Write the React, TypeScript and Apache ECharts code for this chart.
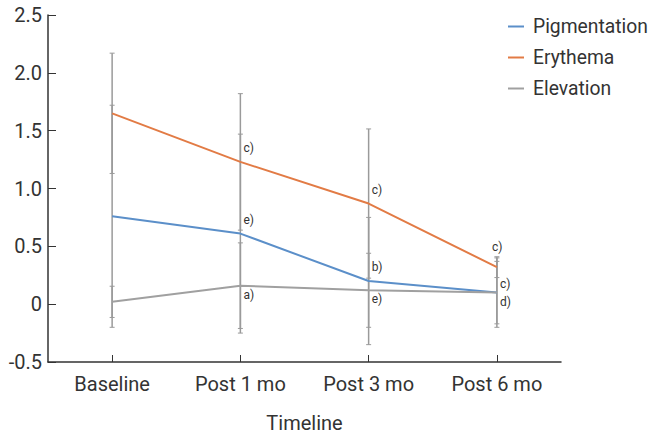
import React, { useEffect, useRef } from "react";
import * as echarts from "echarts";

const categories = ["Baseline", "Post 1 mo", "Post 3 mo", "Post 6 mo"];
const seriesNames = ["Pigmentation", "Erythema", "Elevation"];
const pigmentationMean = [0.76, 0.61, 0.2, 0.1];
const pigmentationSD = [0.96, 0.86, 0.55, 0.27];
const erythemaMean = [1.65, 1.23, 0.87, 0.32];
const erythemaSD = [0.52, 0.59, 0.645, 0.09];
const elevationMean = [0.02, 0.16, 0.12, 0.1];
const elevationSD = [0.135, 0.37, 0.32, 0.3];
const pigmentationLetters = ["", "e)", "b)", "c)"];
const erythemaLetters = ["", "c)", "c)", "c)"];
const elevationLetters = ["", "a)", "e)", "d)"];
const pigmentationPlace = ["", "up", "up", "upNear"];
const erythemaPlace = ["", "up", "up", "top"];
const elevationPlace = ["", "down", "down", "down"];
const yTicks = [-0.5, 0, 0.5, 1.0, 1.5, 2.0, 2.5];

const colors = ["#5b8fc9", "#e27b45", "#a0a0a0"];
const FONT = "Roboto, 'Noto Sans', sans-serif";

export default function App() {
  const ref = useRef<HTMLDivElement>(null);
  useEffect(() => {
    if (!ref.current) return;
    const chart = echarts.init(ref.current, null, { renderer: "svg" });
    const means = [pigmentationMean, erythemaMean, elevationMean];
    const sds = [pigmentationSD, erythemaSD, elevationSD];
    const letters = [pigmentationLetters, erythemaLetters, elevationLetters];
    const places = [pigmentationPlace, erythemaPlace, elevationPlace];

    const errorSeries = means.map((m, si) => ({
      type: "custom",
      name: seriesNames[si] + " SD",
      z: 1,
      silent: true,
      data: m.map((v, i) => [i, v - sds[si][i], v + sds[si][i]]),
      renderItem: (params: any, api: any) => {
        const x = api.value(0);
        const lo = api.coord([x, api.value(1)]);
        const hi = api.coord([x, api.value(2)]);
        const style = { stroke: "#9a9a9a", lineWidth: 1.5 };
        const cap = 2.5;
        return {
          type: "group",
          children: [
            { type: "line", shape: { x1: lo[0], y1: lo[1], x2: hi[0], y2: hi[1] }, style },
            { type: "line", shape: { x1: lo[0] - cap, y1: lo[1], x2: lo[0] + cap, y2: lo[1] }, style: { stroke: "#9a9a9a", lineWidth: 1 } },
            { type: "line", shape: { x1: hi[0] - cap, y1: hi[1], x2: hi[0] + cap, y2: hi[1] }, style: { stroke: "#9a9a9a", lineWidth: 1 } },
          ],
        };
      },
    }));

    const lineSeries = means.map((m, si) => ({
      type: "line",
      name: seriesNames[si],
      z: 3,
      data: m,
      showSymbol: false,
      symbol: "none",
      lineStyle: { color: colors[si], width: 2 },
      itemStyle: { color: colors[si] },
    }));

    const labelSeries = means.map((m, si) => ({
      type: "custom",
      name: seriesNames[si] + " labels",
      z: 4,
      silent: true,
      data: m.map((v, i) => [i, v]),
      renderItem: (params: any, api: any) => {
        const i = params.dataIndex;
        const txt = letters[si][i];
        if (!txt) return null;
        const p = api.coord([api.value(0), api.value(1)]);
        const place = places[si][i];
        let x = p[0] + 3;
        let y = p[1];
        if (place === "up") y -= 14;
        else if (place === "upNear") y -= 9;
        else if (place === "down") y += 9;
        else if (place === "top") {
          y -= 20;
          x = p[0] - 5;
        }
        return {
          type: "text",
          x,
          y,
          style: {
            text: txt,
            fill: "#333",
            font: `12px ${FONT}`,
            align: "left",
            verticalAlign: "middle",
          },
        };
      },
    }));

    chart.setOption({
      animation: false,
      textStyle: { fontFamily: FONT },
      grid: { left: 48, right: 87, top: 15, bottom: 73, outerBoundsMode: "none", containLabel: false },
      legend: {
        orient: "vertical",
        left: 503,
        top: 12,
        itemGap: 12,
        itemWidth: 16,
        itemHeight: 2,
        icon: "rect",
        data: seriesNames.map((n, i) => ({ name: n, itemStyle: { color: colors[i] } })),
        textStyle: { fontSize: 19.3, color: "#333", fontFamily: FONT, padding: [0, 0, 0, 4] },
      },
      xAxis: {
        type: "category",
        data: categories,
        boundaryGap: true,
        name: "Timeline",
        nameLocation: "middle",
        nameGap: 51,
        nameTextStyle: { fontSize: 20, color: "#333" },
        axisLine: { onZero: false, lineStyle: { color: "#333", width: 1.5 } },
        axisTick: { show: true, inside: true, alignWithLabel: true, length: 7, lineStyle: { color: "#333" } },
        axisLabel: { fontSize: 20, color: "#333", margin: 12 },
        splitLine: { show: false },
      },
      yAxis: {
        type: "value",
        min: yTicks[0],
        max: yTicks[yTicks.length - 1],
        interval: 0.5,
        axisLine: { show: true, lineStyle: { color: "#333", width: 1.5 } },
        axisTick: { show: true, inside: true, length: 8, lineStyle: { color: "#333" } },
        axisLabel: {
          fontSize: 20,
          color: "#333",
          margin: 6,
          formatter: (v: number) => (v === 0 ? "0" : v.toFixed(1)),
        },
        splitLine: { show: false },
      },
      series: [...errorSeries, ...lineSeries, ...labelSeries],
    });
    return () => chart.dispose();
  }, []);
  return <div ref={ref} style={{ width: 648, height: 435, position: "absolute", left: 0, top: 0 }} />;
}
